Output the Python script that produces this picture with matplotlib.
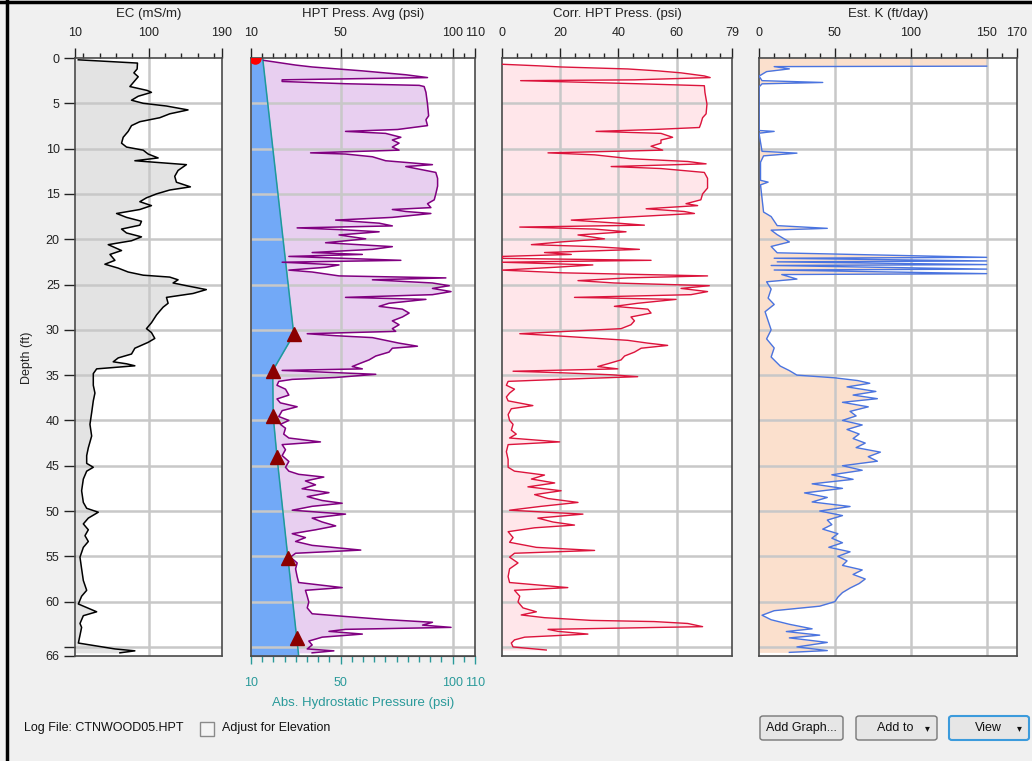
import matplotlib.pyplot as plt
import numpy as np
from matplotlib.patches import Rectangle, FancyBboxPatch
from matplotlib.ticker import FixedLocator

plt.rcParams["font.family"] = ["Liberation Sans", "DejaVu Sans"]
plt.rcParams["font.size"] = 9

# ---------------- data (depth in ft) ----------------
ec_depth = [0.2, 0.56, 1.21, 1.64, 2.07, 2.5, 3.15, 3.58, 3.79, 4.22, 4.66, 5.0, 5.3, 5.73, 6.16, 6.59,
            7.03, 7.46, 8.1, 8.75, 9.4, 9.83, 10.17, 10.6, 11.03, 11.34, 11.77, 12.41, 13.06, 13.71,
            14.22, 14.57, 15.0, 15.43, 15.86, 16.29, 16.72, 17.16, 17.59, 18.02, 18.45, 18.88, 19.31,
            19.74, 20.17, 20.6, 21.25, 21.68, 22.33, 22.76, 23.19, 23.62, 23.97, 24.18, 24.48, 24.83,
            25.13, 25.56, 25.99, 26.42, 27.07, 27.5, 27.93, 28.36, 29.22, 29.87, 30.3, 30.95, 31.38,
            32.03, 32.67, 33.1, 33.53, 33.75, 33.97, 34.31, 34.83, 36.12, 36.98, 37.84, 39.14, 40.43,
            41.72, 43.02, 43.88, 44.74, 45.17, 45.6, 46.47, 47.76, 49.05, 49.7, 50.13, 50.78, 51.42,
            52.07, 52.72, 53.36, 54.01, 55.09, 56.38, 57.67, 58.75, 59.4, 60.26, 61.12, 61.55, 62.41,
            62.84, 63.71, 64.57, 65.22, 65.43, 65.65]
ec_val = [14, 86.5, 86.1, 82.1, 87.4, 83.3, 77.2, 98.4, 103.6, 87.4, 79.2, 93.5, 122, 148.4, 126, 113.8,
          89.4, 79.2, 75.1, 69, 67, 73.1, 93.5, 99.6, 111.8, 83.3, 146.4, 136.2, 132.1, 134.2,
          151.3, 126, 109.8, 97.5, 89.4, 103.6, 89.4, 60.9, 73.1, 91.4, 89.4, 67, 73.1,
          91.4, 79.2, 50.7, 67, 52.8, 58.9, 46.6, 62.9, 75.1, 93.5, 126, 136.2, 130.1,
          146.4, 170.8, 154.5, 122, 124, 117.9, 113.8, 109.8, 103.6, 97.5, 103.6, 107.7, 99.6,
          83.3, 79.2, 62.9, 56.8, 73.1, 83.3, 36.5, 32.4, 32.4, 34.4, 32.4, 30.4, 28.3,
          30.4, 26.3, 24.3, 24.3, 32.4, 24.3, 20.2, 18.1, 20.2, 24.3, 38.5, 26.3, 20.2,
          26.3, 22.2, 26.3, 20.2, 16.1, 18.1, 20.2, 24.3, 18.1, 14.1, 36.5, 20.2, 16.1,
          18.1, 16.1, 14.1, 58.9, 83.3, 65]

hpt_depth = [0.26, 0.78, 0.99, 1.42, 1.85, 2.16, 2.41, 2.59, 2.84, 3.02,
             3.15, 3.79, 5.09, 6.38, 6.81, 7.46, 7.89, 8.1, 8.32, 8.75,
             9.05, 9.4, 9.83, 10.17, 10.47, 10.6, 10.9, 11.34, 11.77, 11.98,
             12.63, 13.28, 14.14, 15.0, 15.65, 16.08, 16.51, 16.72, 16.94, 17.16,
             17.59, 17.89, 18.23, 18.53, 18.75, 18.97, 19.18, 19.53, 19.96, 20.39,
             20.82, 21.12, 21.47, 21.68, 21.9, 22.33, 22.54, 22.84, 23.1, 23.41,
             23.62, 24.05, 24.27, 24.48, 24.83, 25.13, 25.43, 25.78, 26.12, 26.42,
             26.64, 27.07, 27.41, 27.72, 28.15, 28.58, 29.01, 29.44, 29.87, 30.17,
             30.43, 30.65, 30.86, 31.16, 31.47, 31.81, 32.03, 32.46, 32.89, 33.32,
             33.75, 34.05, 34.31, 34.48, 34.7, 34.91, 35.26, 35.47, 35.69, 36.12,
             36.55, 37.2, 37.63, 38.06, 38.49, 38.92, 39.57, 40.0, 40.43, 40.86,
             41.51, 41.94, 42.37, 42.67, 43.23, 43.88, 44.53, 45.17, 45.6, 45.95,
             46.25, 46.68, 47.11, 47.54, 47.97, 48.41, 48.84, 49.14, 49.48, 49.91,
             50.34, 50.78, 51.21, 51.64, 52.07, 52.5, 52.93, 53.36, 53.79, 54.31,
             54.66, 55.09, 55.73, 56.38, 57.24, 57.89, 58.45, 58.75, 59.4, 60.04,
             60.69, 61.34, 61.64, 61.98, 62.28, 62.59, 62.84, 63.06, 63.28, 63.58,
             63.92, 64.35, 64.78, 65.22, 65.43, 65.65]
hpt_val = [15.7, 29.9, 37.3, 59.7, 79.1, 88.8, 23.9, 23.9, 52.2, 85.1,
           87.3, 88.1, 88.8, 89.3, 88.1, 88.8, 75.4, 52.2, 70.1, 76.9,
           73.1, 76.1, 73.1, 76.1, 36.6, 52.2, 64.2, 70.1, 91.0, 79.1,
           92.5, 93.3, 93.3, 92.5, 91.8, 88.8, 90.3, 73.1, 79.1, 90.3,
           73.1, 47.8, 67.2, 73.1, 30.6, 52.2, 67.2, 49.3, 61.2, 43.3,
           73.1, 64.2, 37.3, 59.7, 26.9, 76.9, 23.9, 49.3, 43.3, 26.9,
           37.3, 49.3, 97.0, 64.2, 91.0, 98.5, 91.0, 99.3, 91.0, 52.2,
           88.1, 71.6, 67.2, 77.6, 80.6, 77.6, 73.1, 76.1, 73.1, 74.6,
           35.1, 47.8, 64.2, 70.1, 76.1, 84.3, 73.1, 71.6, 65.7, 62.7,
           58.2, 55.2, 59.7, 23.9, 44.8, 65.7, 47.8, 28.4, 22.4, 21.6,
           25.4, 26.9, 21.6, 23.1, 30.6, 23.9, 22.4, 26.9, 23.1, 25.4,
           24.6, 26.9, 41.0, 23.9, 25.4, 23.9, 26.9, 25.4, 26.9, 31.3,
           42.5, 34.3, 38.8, 32.8, 44.8, 35.1, 41.8, 50.7, 37.3, 28.4,
           52.2, 37.3, 41.8, 47.8, 38.8, 28.4, 34.3, 29.9, 37.3, 59.0,
           29.9, 27.6, 30.6, 29.9, 30.6, 31.3, 50.7, 34.3, 35.1, 35.8,
           35.1, 37.3, 52.2, 70.1, 91.0, 86.6, 99.3, 52.2, 44.8, 59.7,
           41.8, 35.8, 37.3, 35.1, 47.0, 37.3]

# absolute hydrostatic pressure line and its measured points
hyd_depth = [0, 30.5, 34.5, 39.5, 44.0, 55.2, 64.0, 66]
hyd_val = [15.2, 29.1, 19.7, 19.9, 21.6, 26.5, 30.4, 31.3]
dissip_depth = [30.5, 34.5, 39.5, 44.0, 55.2, 64.0]
dissip_val = [29.1, 19.7, 19.9, 21.6, 26.5, 30.4]

corr_depth = [0.69, 0.86, 0.99, 1.21, 1.42, 1.64, 1.98, 2.16, 2.41, 2.5,
              2.72, 2.84, 3.06, 3.79, 5.09, 6.16, 6.59, 7.24, 7.67, 7.89,
              8.1, 8.32, 8.75, 9.05, 9.4, 9.74, 10.17, 10.47, 10.69, 11.12,
              11.42, 11.68, 11.98, 12.2, 12.63, 13.28, 14.35, 15.0, 15.65, 16.08,
              16.29, 16.64, 16.94, 17.16, 17.59, 17.89, 18.23, 18.45, 18.66, 18.88,
              19.18, 19.53, 19.96, 20.3, 20.6, 20.82, 21.12, 21.47, 21.68, 21.9,
              22.11, 22.33, 22.54, 22.84, 23.1, 23.41, 23.71, 24.05, 24.27, 24.57,
              24.83, 25.13, 25.43, 25.78, 26.12, 26.42, 26.64, 27.07, 27.41, 27.72,
              28.15, 28.58, 29.01, 29.44, 29.87, 30.43, 30.65, 30.95, 31.16, 31.47,
              31.72, 32.03, 32.46, 32.89, 33.32, 33.75, 34.05, 34.31, 34.57, 34.74,
              34.96, 35.17, 35.47, 35.69, 36.12, 36.55, 36.98, 37.41, 37.84, 38.36,
              38.71, 39.35, 40.0, 40.43, 41.08, 41.51, 41.94, 42.37, 42.67, 43.45,
              44.31, 45.17, 45.6, 46.03, 46.47, 46.9, 47.33, 47.76, 48.19, 48.62,
              49.05, 49.48, 49.91, 50.34, 50.78, 51.21, 51.55, 51.85, 52.28, 52.93,
              53.45, 54.01, 54.35, 54.66, 55.09, 55.73, 56.38, 57.24, 57.89, 58.45,
              58.75, 59.4, 60.04, 60.69, 61.12, 61.47, 61.77, 62.07, 62.2, 62.41,
              62.76, 63.06, 63.28, 63.58, 63.92, 64.22, 64.57, 65.0, 65.34]
corr_val = [0, 12.3, 20.3, 43.2, 53.5, 61.5, 69.5, 71.5, 45.5, 6.4,
            31.8, 46.6, 69.5, 69.7, 70.4, 70.1, 68.9, 68.3, 67.8, 52.3,
            32.3, 54.6, 58.6, 54.6, 54.6, 51.2, 55.2, 15.8, 31.8, 44.3,
            63.8, 70.1, 37.5, 54.6, 69.5, 70.6, 70.6, 68.9, 68.3, 63.2,
            67.2, 49.5, 62.6, 66.1, 40.9, 23.8, 39.8, 48.9, 6.1, 31.8,
            42.6, 26.1, 35.2, 20.3, 10.1, 31.8, 47.2, 14.6, 23.8, 0,
            0.3, 51.2, 0, 31.2, 18.1, 0, 20.9, 70.6, 43.2, 26.1,
            38.6, 71.2, 61.5, 70.6, 64.9, 24.9, 59.8, 46.6, 38.6, 50.1,
            51.2, 44.3, 45.5, 44.3, 40.9, 6.1, 18.1, 32.9, 43.2, 50.1,
            56.9, 47.8, 45.5, 42.1, 40.9, 36.3, 32.9, 39.8, 3.8, 20.3,
            37.5, 46.6, 19.8, 2.1, 1.5, 4.3, 2.6, 1.5, 2.1, 10.6,
            3.2, 2.1, 2.6, 3.8, 3.2, 4.9, 2.6, 19.8, 2.1, 1.5,
            2.1, 2.1, 4.3, 14.6, 10.1, 18.1, 8.9, 20.3, 11.2, 15.8,
            26.1, 13.5, 2.6, 27.8, 12.3, 17.5, 24.9, 11.2, 2.1, 3.8,
            2.6, 11.8, 31.8, 4.3, 2.6, 5.5, 2.6, 2.1, 2.6, 22.6,
            4.3, 6.1, 5.5, 7.2, 11.8, 6.6, 14.6, 30.6, 52.3, 63.8,
            68.9, 15.8, 19.2, 29.5, 7.8, 4.3, 3.2, 3.8, 15.2]

k_depth = [0, 0.9, 0.95, 1.2, 1.5, 2.0, 2.5, 2.7, 2.85, 3.2, 8.0, 8.1, 8.3, 10.3, 10.5, 10.8,
           11.5, 13.5, 13.7, 14.0, 17.0, 17.5, 18.0, 18.5, 18.8, 19.0, 19.5, 20.3, 20.8, 21.5,
           22.0, 22.1, 22.4, 22.5, 22.8, 22.9, 23.3, 23.4, 23.8, 23.9, 24.4, 24.7, 25.5, 26.5,
           27.2, 28.0, 29.0, 30.0, 31.0, 32.0, 33.0, 34.0, 34.5, 35.0, 35.3, 35.6, 35.9, 36.3,
           36.8, 37.2, 37.6, 38.0, 38.5, 39.0, 39.5, 40.0, 40.5, 41.0, 41.5, 42.0, 42.5, 43.0,
           43.5, 44.0, 44.5, 45.0, 45.5, 46.0, 46.5, 47.0, 47.5, 48.0, 48.5, 49.0, 49.5, 50.0,
           50.5, 51.0, 51.5, 52.0, 52.5, 53.0, 53.5, 54.0, 54.5, 55.0, 55.5, 56.0, 56.5, 57.0,
           57.5, 58.0, 58.5, 59.0, 59.5, 60.0, 60.5, 61.0, 61.5, 62.0, 62.5, 63.0, 63.3, 63.7,
           64.0, 64.5, 65.0, 65.4, 65.6]
k_val = [150, 150, 10, 20, 5, 0, 2, 42, 2, 0, 0, 10, 0, 2, 25, 3,
         1, 1, 6, 1, 3, 8, 10, 12, 45, 8, 12, 20, 8, 12,
         150, 10, 150, 12, 150, 8, 150, 10, 150, 15, 25, 5, 8, 6,
         10, 4, 6, 8, 5, 10, 8, 14, 20, 25, 50, 65, 73, 58,
         77, 62, 78, 55, 72, 60, 64, 55, 68, 58, 66, 62, 70, 64,
         80, 72, 78, 55, 68, 48, 62, 35, 55, 30, 45, 35, 60, 40,
         55, 45, 48, 42, 52, 48, 55, 46, 60, 52, 58, 55, 68, 62,
         70, 66, 60, 55, 52, 50, 40, 10, 2, 8, 20, 35, 18, 40,
         20, 45, 25, 45, 20]

depth_ticks = [0, 5, 10, 15, 20, 25, 30, 35, 40, 45, 50, 55, 60, 66]
depth_grid = [5, 10, 15, 20, 25, 30, 35, 40, 45, 50, 55, 60, 65]

# ---------------- layout ----------------
W, H = 1032, 761
fig = plt.figure(figsize=(W / 100, H / 100), dpi=100, facecolor="#F0F0F0")


def fx(px):
    return px / W


def fy(py):
    return 1 - py / H


TOP, BOT = 58, 656
GRID = "#C8C8C8"
SPINE = "#4a4a4a"
TICK_FS = 9


def make_panel(l, r, xlim, major, minor, vgrid, title):
    ax = fig.add_axes([fx(l), fy(BOT), (r - l) / W, (BOT - TOP) / H])
    ax.set_facecolor("white")
    ax.set_xlim(*xlim)
    ax.set_ylim(66, 0)
    ax.xaxis.set_ticks_position("top")
    ax.set_xticks(major)
    ax.set_xticklabels([str(m) for m in major])
    ax.xaxis.set_minor_locator(FixedLocator(minor))
    ax.tick_params(axis="x", which="major", length=7, width=1, pad=7, labelsize=TICK_FS,
                   colors="#222222")
    ax.tick_params(axis="x", which="minor", length=3.5, width=1, colors="#222222")
    ax.set_yticks([])
    for s in ax.spines.values():
        s.set_color(SPINE)
        s.set_linewidth(1.2)
    for d in depth_grid:
        ax.axhline(d, color=GRID, lw=1.8, zorder=1.5)
    for v in vgrid:
        ax.axvline(v, color=GRID, lw=1.8, zorder=1.5)
    fig.text(fx((l + r) / 2), fy(14), title, ha="center", va="center", fontsize=9.5,
             color="#222222")
    return ax


# EC
ax1 = make_panel(75, 222, (10, 190), [10, 100, 190], [20, 40, 60, 80, 120, 140, 160, 180],
                 [100], "EC (mS/m)")
ax1.fill_betweenx(ec_depth, 10, ec_val, color="#E3E3E3", lw=0, zorder=1)
ax1.plot(ec_val, ec_depth, color="black", lw=1.1, zorder=3)
ax1.set_yticks(depth_ticks)
ax1.set_yticklabels([str(d) for d in depth_ticks])
ax1.yaxis.set_minor_locator(FixedLocator([65]))
ax1.tick_params(axis="y", which="both", length=8, width=1, pad=3, labelsize=TICK_FS,
                colors="#222222")
fig.text(fx(27), fy(358), "Depth (ft)", rotation=90, ha="center", va="center",
         fontsize=9, color="#222222")

# HPT pressure
hpt_minor = [v for v in range(15, 110, 5) if v not in (50, 100)]
ax2 = make_panel(251, 475, (10, 110), [10, 50, 100, 110], hpt_minor, [50, 100],
                 "HPT Press. Avg (psi)")
ax2.fill_betweenx(hpt_depth, 10, hpt_val, color="#E8CFF0", lw=0, zorder=1)
ax2.fill_betweenx(hyd_depth, 10, hyd_val, color="#72A9F7", lw=0, zorder=1.2)
ax2.plot(hyd_val, hyd_depth, color="#1F9A9A", lw=1.1, zorder=2.5)
ax2.plot(hpt_val, hpt_depth, color="#800080", lw=1.1, zorder=3)
ax2.plot(dissip_val, dissip_depth, ls="none", marker="^", ms=10, color="#8B0000", zorder=4)
ax2.plot([11.8], [0], ls="none", marker="o", ms=8, color="#FF0000", zorder=4)
sec = ax2.secondary_xaxis("bottom")
sec.set_xticks([10, 50, 100, 110])
sec.xaxis.set_minor_locator(FixedLocator(hpt_minor))
sec.tick_params(axis="x", which="major", length=6, width=1, pad=9, labelsize=TICK_FS,
                colors="#2A9A9A")
sec.tick_params(axis="x", which="minor", length=4, width=1, colors="#2A9A9A")
sec.spines["bottom"].set_color(SPINE)
sec.set_xlabel("Abs. Hydrostatic Pressure (psi)", color="#2A9A9A", fontsize=9.5, labelpad=6)

# corrected pressure
corr_minor = [v for v in range(5, 79, 5) if v not in (20, 40, 60)]
ax3 = make_panel(502, 732, (0, 79), [0, 20, 40, 60, 79], corr_minor, [20, 40, 60],
                 "Corr. HPT Press. (psi)")
ax3.fill_betweenx(corr_depth, 0, corr_val, color="#FFE6EA", lw=0, zorder=1)
ax3.plot(corr_val, corr_depth, color="#DC143C", lw=1.0, zorder=3)

# estimated K
k_minor = [v for v in range(10, 170, 10) if v not in (50, 100, 150)]
ax4 = make_panel(759, 1017, (0, 170), [0, 50, 100, 150, 170], k_minor, [50, 100, 150],
                 "Est. K (ft/day)")
ax4.fill_betweenx(k_depth, 0, k_val, color="#FBE0CD", lw=0, zorder=1)
ax4.plot(k_val[1:], k_depth[1:], color="#4A74E0", lw=1.0, zorder=3)

# ---------------- window widgets ----------------
fig.text(fx(24), fy(728), "Log File: CTNWOOD05.HPT", ha="left", va="center", fontsize=9,
         color="#111111")
fig.patches.append(Rectangle((fx(200), fy(736)), fx(14), 14 / H, transform=fig.transFigure,
                             fc="#F4F4F4", ec="#8a8a8a", lw=1))
fig.text(fx(222), fy(728), "Adjust for Elevation", ha="left", va="center", fontsize=9,
         color="#111111")


def button(x0, y0, x1, y1, text, tx, arrow=None, edge="#777777", lw=1.0):
    fig.patches.append(FancyBboxPatch((fx(x0), fy(y1)), fx(x1 - x0), (y1 - y0) / H,
                                      boxstyle="round,pad=0,rounding_size=0.003",
                                      transform=fig.transFigure, fc="#E6E6E6", ec=edge, lw=lw))
    fig.text(fx(tx), fy((y0 + y1) / 2), text, ha="center", va="center", fontsize=9,
             color="#111111")
    if arrow is not None:
        fig.text(fx(arrow), fy((y0 + y1) / 2), "\u25be", ha="center", va="center", fontsize=7,
                 color="#111111", family="DejaVu Sans")


button(760, 716, 843, 740, "Add Graph...", 801)
button(856, 716, 937, 740, "Add to", 895, arrow=927)
button(949, 716, 1029, 740, "View", 988, arrow=1019, edge="#3C9BDC", lw=1.5)

# window border
fig.add_artist(plt.Line2D([fx(7), fx(7)], [0, 1], transform=fig.transFigure, color="black", lw=2.5))
fig.add_artist(plt.Line2D([0, 1], [fy(1.5), fy(1.5)], transform=fig.transFigure, color="black",
                          lw=2.5))

fig.savefig("out.png", dpi=100, facecolor=fig.get_facecolor())
